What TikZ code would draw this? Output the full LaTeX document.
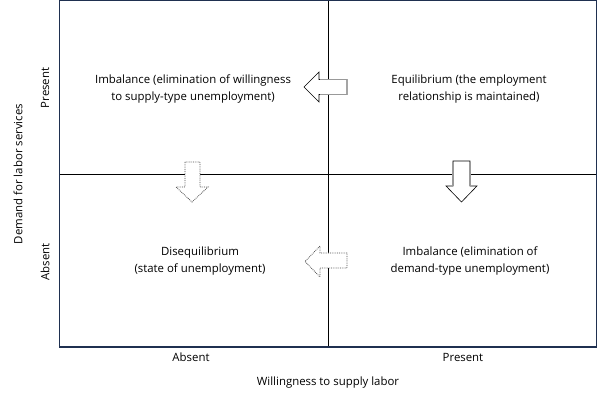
\documentclass[tikz,border=0pt]{standalone}
\usepackage{fontspec}
\setmainfont{Open Sans}
\definecolor{navy}{HTML}{1F3050}
\begin{document}
\begin{tikzpicture}[x=1pt,y=-1pt,
  lbl/.style={font=\fontsize{11.4}{17.5}\selectfont, align=center, inner sep=0pt, text=black},
  solidarrow/.style={draw=black, line width=0.6pt, fill=white, line join=miter},
  dotarrow/.style={draw=black!70, line width=0.8pt, densely dotted, fill=white},
  shaftedge/.style={draw=black!40, line width=1.4pt}]
\useasboundingbox (0,0) rectangle (598,401);
% frame and dividers
\coordinate (tl) at (59.5,0.8);
\coordinate (br) at (596.8,347);
\coordinate (vt) at (328,0.8);
\coordinate (vb) at (328,347);
\coordinate (hl) at (59.5,174);
\coordinate (hr) at (596.8,174);
\draw[black, line width=0.8pt] (vt) -- (vb);
\draw[black, line width=0.8pt] (hl) -- (hr);
\draw[navy, line width=1.2pt] (tl) rectangle (br);
% arrows
\draw[solidarrow] (347,79.5) -- (319,79.5) -- (319,72) -- (304,87) -- (319,102) -- (319,94.5) -- (347,94.5) -- cycle;
\draw[shaftedge] (320,79.5) -- (347,79.5) (320,94.5) -- (347,94.5);
\draw[solidarrow] (453,161) -- (453,186) -- (446,186) -- (461.5,202) -- (477,186) -- (470,186) -- (470,161) -- cycle;
\draw[shaftedge] (453,162) -- (453,186) (470,162) -- (470,186);
\draw[dotarrow] (185,162) -- (185,187) -- (176,187) -- (192,202) -- (208,187) -- (200,187) -- (200,162) -- cycle;
\draw[dotarrow] (347,253) -- (320,253) -- (320,246) -- (305,261.5) -- (320,277) -- (320,268) -- (347,268) -- cycle;
% quadrant texts
\node[lbl] (q1) at (193,89) {Imbalance (elimination of willingness\\to supply-type unemployment)};
\node[lbl] (q2) at (469,89) {Equilibrium (the employment\\relationship is maintained)};
\node[lbl] (q3) at (200,261) {Disequilibrium\\(state of unemployment)};
\node[lbl] (q4) at (470,261) {Imbalance (elimination of\\demand-type unemployment)};
% axis texts
\node[lbl] (xa) at (191,357) {Absent};
\node[lbl] (xp) at (463,357) {Present};
\node[lbl] (xt) at (328,383) {Willingness to supply labor};
\node[lbl, rotate=90] (yp) at (45,88) {Present};
\node[lbl, rotate=90] (ya) at (45,262) {Absent};
\node[lbl, rotate=90] (yt) at (18,174) {Demand for labor services};
\end{tikzpicture}
\end{document}
